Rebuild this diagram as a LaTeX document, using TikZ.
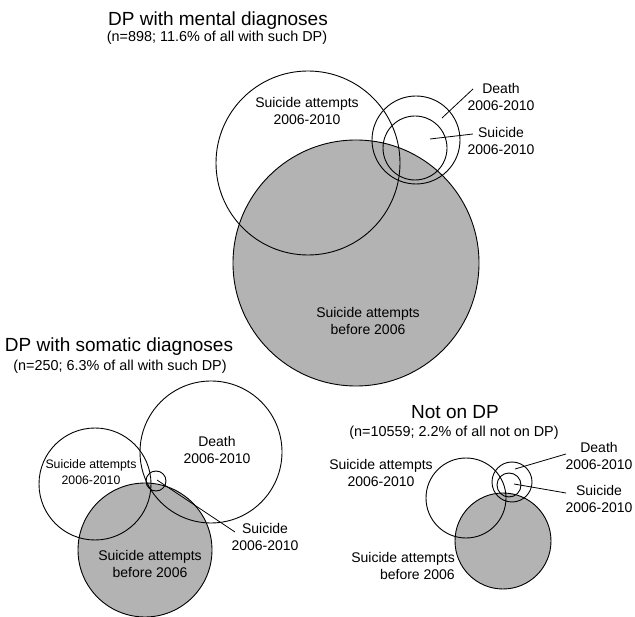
\documentclass[tikz,border=0pt]{standalone}
\usepackage{fontspec}
\setmainfont{Liberation Sans}
\definecolor{venngray}{RGB}{179,179,179}
\tikzset{
  ring/.style={circle, draw=black, line width=0.9pt, inner sep=0pt, minimum size=#1},
  grayring/.style={circle, draw=black, fill=venngray, line width=0.9pt, inner sep=0pt, minimum size=#1},
  titletext/.style={anchor=base, font=\fontsize{19}{22}\selectfont},
  subtext/.style={anchor=base, font=\fontsize{14.4}{16}\selectfont},
  lbl/.style={align=center, inner sep=0pt, font=\fontsize{14}{17.5}\selectfont},
  smalllbl/.style={align=center, inner sep=0pt, font=\fontsize{12.3}{15.5}\selectfont},
  leader/.style={line width=0.8pt}
}
\begin{document}
\begin{tikzpicture}[x=1pt,y=-1pt]
\useasboundingbox (0,0) rectangle (635,617);
% ---------- Top: DP with mental diagnoses ----------
\node[titletext] (t1) at (218,26) {DP with mental diagnoses};
\node[subtext] (s1) at (217,42) {(n=898; 11.6\% of all with such DP)};
\node[grayring=246pt] (m-before) at (356,263) {};
\node[ring=184pt] (m-att) at (308,163) {};
\node[ring=88pt] (m-death) at (416,140) {};
\node[ring=64pt] (m-suic) at (415,148) {};
\node[lbl] (m-att-l) at (307,111) {Suicide attempts\\2006-2010};
\node[lbl] (m-before-l) at (368,321) {Suicide attempts\\before 2006};
\node[lbl] (m-death-l) at (501,97) {Death\\2006-2010};
\node[lbl] (m-suic-l) at (501,141) {Suicide\\2006-2010};
\coordinate (m-d1) at (442,118);
\coordinate (m-d2) at (473,89);
\coordinate (m-s1) at (430,139);
\coordinate (m-s2) at (473,134);
\draw[leader] (m-d1) -- (m-d2);
\draw[leader] (m-s1) -- (m-s2);
% ---------- Bottom left: DP with somatic diagnoses ----------
\node[titletext] (t2) at (119,352) {DP with somatic diagnoses};
\node[subtext] (s2) at (120,371) {(n=250; 6.3\% of all with such DP)};
\node[grayring=134pt] (s-before) at (145,550) {};
\node[ring=112pt] (s-att) at (95,484) {};
\node[ring=142pt] (s-death) at (211,452) {};
\node[ring=20pt] (s-suic) at (156,481) {};
\node[lbl] (s-death-l) at (217,450) {Death\\2006-2010};
\node[smalllbl] (s-att-l) at (91,472) {Suicide attempts\\2006-2010};
\node[lbl] (s-before-l) at (150,564) {Suicide attempts\\before 2006};
\node[lbl] (s-suic-l) at (265,537) {Suicide\\2006-2010};
\coordinate (s-s1) at (157,480);
\coordinate (s-s2) at (235,532);
\draw[leader] (s-s1) -- (s-s2);
% ---------- Bottom right: Not on DP ----------
\node[titletext] (t3) at (455,419) {Not on DP};
\node[subtext] (s3) at (454,437) {(n=10559; 2.2\% of all not on DP)};
\node[grayring=96pt] (n-before) at (503,541) {};
\node[ring=80pt] (n-att) at (466,498) {};
\node[ring=40pt] (n-death) at (512,482) {};
\node[ring=24pt] (n-suic) at (509,485) {};
\node[lbl] (n-att-l) at (381,473) {Suicide attempts\\2006-2010};
\node[lbl, align=right, anchor=east] (n-before-l) at (455,566) {Suicide attempts\\before 2006};
\node[lbl] (n-death-l) at (599,456) {Death\\2006-2010};
\node[lbl] (n-suic-l) at (599,499) {Suicide\\2006-2010};
\coordinate (n-d1) at (515,469);
\coordinate (n-d2) at (566,454);
\coordinate (n-s1) at (514,484);
\coordinate (n-s2) at (566,493);
\draw[leader] (n-d1) -- (n-d2);
\draw[leader] (n-s1) -- (n-s2);
\end{tikzpicture}
\end{document}
